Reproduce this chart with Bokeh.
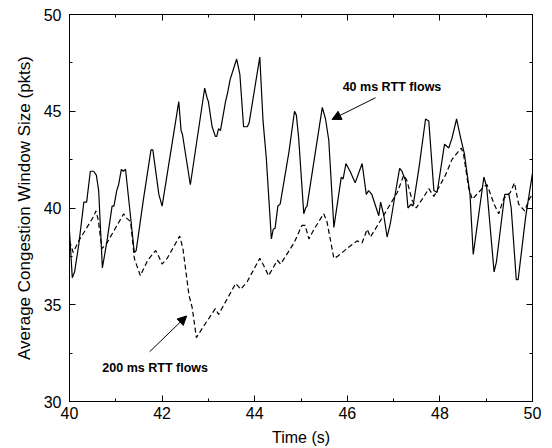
from bokeh.plotting import figure
from bokeh.models import (Range1d, LinearAxis, SingleIntervalTicker, Arrow, NormalHead,
                          CustomJSTickFormatter)
from bokeh.core.properties import value
from bokeh.embed import file_html
from bokeh.resources import INLINE

# ---- data ----
t_40ms = [40.00, 40.06, 40.11, 40.20, 40.31, 40.37, 40.45, 40.52, 40.58, 40.63,
          40.71, 40.81, 40.92, 40.96, 41.02, 41.06, 41.12, 41.16, 41.21, 41.40,
          41.44, 41.60, 41.76, 41.80, 41.93, 42.00, 42.36, 42.41, 42.44, 42.61,
          42.92, 42.97, 43.00, 43.08, 43.15, 43.18, 43.22, 43.26, 43.37, 43.41,
          43.47, 43.61, 43.68, 43.76, 43.84, 43.88, 44.11, 44.18, 44.25, 44.36,
          44.40, 44.44, 44.50, 44.55, 44.74, 44.86, 44.90, 44.95, 45.06, 45.10,
          45.13, 45.46, 45.53, 45.60, 45.71, 45.87, 45.91, 45.97, 46.06, 46.17,
          46.32, 46.41, 46.46, 46.53, 46.68, 46.72, 46.79, 46.86, 46.93, 47.04,
          47.13, 47.18, 47.26, 47.31, 47.38, 47.42, 47.55, 47.69, 47.76, 47.87,
          47.94, 48.10, 48.19, 48.26, 48.36, 48.45, 48.53, 48.58, 48.65, 48.72,
          48.95, 49.01, 49.17, 49.22, 49.40, 49.49, 49.54, 49.65, 49.69, 49.85,
          50.00]
cwnd_40ms = [38.8, 36.4, 36.7, 38.1, 40.3, 40.3, 41.9, 41.9, 41.7, 40.9,
             36.9, 38.3, 40.1, 40.1, 40.9, 41.2, 42.0, 41.9, 42.0, 37.7,
             37.8, 40.5, 43.0, 43.0, 40.7, 40.1, 45.5, 44.0, 43.8, 41.2,
             46.2, 45.7, 45.5, 44.2, 43.7, 43.7, 44.1, 44.0, 45.5, 45.9,
             46.65, 47.7, 46.9, 44.2, 44.2, 44.4, 47.8, 44.5, 42.6, 38.4,
             38.9, 38.95, 40.1, 40.2, 42.9, 45.0, 44.8, 43.6, 39.7, 40.0,
             40.1, 45.2, 44.6, 43.5, 39.0, 41.6, 41.5, 42.3, 41.9, 41.3,
             42.3, 40.7, 40.9, 40.7, 39.6, 40.3, 39.6, 38.5, 39.2, 40.8,
             42.05, 41.9, 41.4, 40.0, 40.2, 40.1, 42.1, 44.6, 44.5, 40.9,
             40.8, 43.3, 43.1, 43.6, 44.6, 43.6, 42.8, 41.9, 40.7, 37.6,
             41.6, 41.1, 36.7, 37.2, 40.7, 40.7, 40.0, 36.3, 36.3, 39.5,
             41.8]

t_200ms = [40.00, 40.08, 40.20, 40.53, 40.57, 40.62, 40.70, 40.81, 41.17, 41.22,
           41.32, 41.40, 41.53, 41.69, 41.86, 41.91, 42.00, 42.11, 42.38, 42.45,
           42.58, 42.65, 42.74, 42.90, 43.15, 43.22, 43.59, 43.70, 43.84, 44.11,
           44.20, 44.30, 44.49, 44.56, 44.85, 45.02, 45.09, 45.17, 45.28, 45.49,
           45.56, 45.71, 45.79, 45.99, 46.21, 46.32, 46.43, 46.50, 46.78, 46.93,
           47.08, 47.22, 47.29, 47.40, 47.49, 47.63, 47.76, 47.87, 47.94, 48.12,
           48.26, 48.46, 48.51, 48.62, 48.70, 48.95, 49.02, 49.17, 49.27, 49.38,
           49.52, 49.61, 49.70, 49.83, 49.94, 50.00]
cwnd_200ms = [38.3, 37.7, 38.3, 39.6, 39.85, 39.4, 37.9, 38.2, 39.7, 39.5,
              39.3, 37.4, 36.5, 37.3, 37.8, 37.6, 37.1, 37.4, 38.55, 37.9,
              35.5, 34.85, 33.3, 33.9, 34.8, 34.5, 36.1, 35.8, 36.2, 37.4,
              37.0, 36.5, 37.3, 37.1, 38.2, 39.1, 39.1, 38.4, 38.9, 39.7,
              39.3, 37.4, 37.5, 37.9, 38.3, 38.2, 38.9, 38.5, 39.6, 40.2,
              40.8, 41.7, 41.4, 40.4, 40.0, 40.5, 41.0, 40.6, 40.9, 41.7,
              42.5, 43.1, 42.8, 41.05, 40.45, 41.1, 41.2, 40.2, 39.7, 40.5,
              40.8, 41.3, 40.2, 39.85, 40.5, 40.7]

x_ticks_interval = 2
y_ticks_interval = 5

# annotation texts and arrow anchors (data units)
label_texts = ["40 ms RTT flows", "200 ms RTT flows"]
label_x = [45.90, 40.71]
label_y = [46.25, 31.73]
arrow_start = [(46.61, 45.70), (41.73, 32.57)]
arrow_end = [(45.67, 44.58), (42.53, 34.42)]

FONT = "Liberation Sans"

p = figure(width=552, height=448, output_backend="svg", toolbar_location=None,
           x_range=Range1d(40, 50), y_range=Range1d(30, 50),
           min_border_left=69, min_border_right=20, min_border_top=14,
           min_border_bottom=47,
           x_axis_label="Time (s)",
           y_axis_label="Average Congestion Window Size (pkts)")
p.grid.visible = False
p.outline_line_color = "black"
p.outline_line_width = 1
p.background_fill_color = "white"
p.border_fill_color = "white"

p.xaxis.ticker = SingleIntervalTicker(interval=x_ticks_interval, num_minor_ticks=2)
p.yaxis.ticker = SingleIntervalTicker(interval=y_ticks_interval, num_minor_ticks=2)

for ax in (p.xaxis[0], p.yaxis[0]):
    ax.major_tick_in = 6
    ax.major_tick_out = 0
    ax.minor_tick_in = 3
    ax.minor_tick_out = 0
    ax.axis_line_color = "black"
    ax.major_tick_line_color = "black"
    ax.minor_tick_line_color = "black"
    ax.major_label_text_font = FONT
    ax.major_label_text_font_size = "16px"
    ax.major_label_text_color = "black"
    ax.axis_label_text_font = FONT
    ax.axis_label_text_font_style = "normal"
    ax.axis_label_text_color = "black"

p.xaxis.axis_label_text_font_size = "16px"
p.yaxis.axis_label_text_font_size = "17px"
p.xaxis.major_label_standoff = 5
p.xaxis.axis_label_standoff = 7
p.yaxis.major_label_standoff = 8
p.yaxis.axis_label_standoff = 7

for loc, interval in (("above", x_ticks_interval), ("right", y_ticks_interval)):
    ax = LinearAxis(ticker=SingleIntervalTicker(interval=interval, num_minor_ticks=2),
                    formatter=CustomJSTickFormatter(code="return ''"),
                    major_label_standoff=0, major_label_text_font_size="10px",
                    major_tick_in=6, major_tick_out=0, minor_tick_in=3, minor_tick_out=0,
                    axis_line_color=None, major_tick_line_color="black",
                    minor_tick_line_color="black")
    p.add_layout(ax, loc)

p.line(t_40ms, cwnd_40ms, line_color="black", line_width=1.2)
p.line(t_200ms, cwnd_200ms, line_color="black", line_width=1.2, line_dash="5 3")

p.text(x=label_x, y=label_y, text=label_texts, text_font=value(FONT),
       text_font_style="bold", text_font_size="12.5px", text_color="black",
       text_align="left", text_baseline="middle")

for (xs, ys), (xe, ye) in zip(arrow_start, arrow_end):
    p.add_layout(Arrow(end=NormalHead(size=9, fill_color="black", line_color="black"),
                       x_start=xs, y_start=ys, x_end=xe, y_end=ye,
                       line_color="black", line_width=1))

open("out.html", "w").write(file_html(p, INLINE))
